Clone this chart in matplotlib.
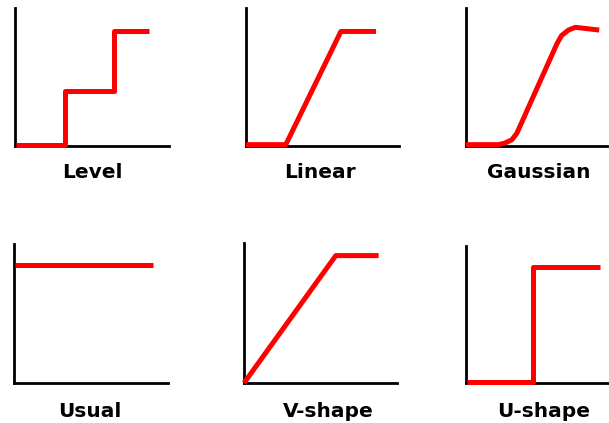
import matplotlib
matplotlib.use("Agg")
import matplotlib.pyplot as plt

W, H = 609, 423

# Panel titles
titles = ["Level", "Linear", "Gaussian", "Usual", "V-shape", "U-shape"]

# Curve data (x, y) in panel units (axes span 0..10)
level_x = [0.05, 3.25, 3.25, 6.4, 6.4, 8.7]
level_y = [0.1, 0.1, 4.0, 4.0, 8.3, 8.3]

linear_x = [0.0, 2.6, 6.2, 8.5]
linear_y = [0.1, 0.1, 8.3, 8.3]

gauss_x = [0.0, 2.1, 2.5, 2.98, 3.3, 5.9, 6.2, 6.65, 7.1, 8.65]
gauss_y = [0.1, 0.1, 0.2, 0.45, 0.92, 7.4, 8.0, 8.4, 8.6, 8.4]

usual_x = [0.05, 9.0]
usual_y = [8.5, 8.5]

vshape_x = [0.0, 6.0, 8.8]
vshape_y = [0.0, 9.1, 9.1]

ushape_x = [0.05, 4.35, 4.35, 8.7]
ushape_y = [0.1, 0.1, 8.5, 8.5]

curves = [(level_x, level_y), (linear_x, linear_y), (gauss_x, gauss_y),
          (usual_x, usual_y), (vshape_x, vshape_y), (ushape_x, ushape_y)]

# Panel geometry in pixels: left, right, top, bottom of axis lines
boxes = [(15, 169, 8, 146), (246, 399, 8, 146), (466, 620, 8, 146),
         (14, 168, 244, 383), (244, 397, 243, 383), (466, 620, 246, 383)]
label_pos = [(92, 172), (320, 172), (539, 172), (90, 411), (328, 411), (544, 411)]

fig = plt.figure(figsize=(W / 100, H / 100), dpi=100)
fig.patch.set_facecolor("white")

for (cx, cy), (l, r, t, b), title, lp in zip(curves, boxes, titles, label_pos):
    ax = fig.add_axes([l / W, 1 - b / H, (r - l) / W, (b - t) / H])
    ax.set_xlim(0, 10)
    ax.set_ylim(0, 10)
    ax.patch.set_alpha(0)
    for s in ["top", "right"]:
        ax.spines[s].set_visible(False)
    for s in ["left", "bottom"]:
        ax.spines[s].set_linewidth(2.0)
        ax.spines[s].set_color("black")
        ax.spines[s].set_capstyle("projecting")
    ax.set_xticks([])
    ax.set_yticks([])
    ax.plot(cx, cy, color="#ff0000", lw=3.6, solid_joinstyle="round",
            solid_capstyle="butt", clip_on=False, zorder=5)
    fig.text(lp[0] / W, 1 - lp[1] / H, title, ha="center", va="center",
             fontsize=14.5, fontweight="bold", family="DejaVu Sans", color="black")

fig.savefig("out.png", dpi=100, facecolor="white")
